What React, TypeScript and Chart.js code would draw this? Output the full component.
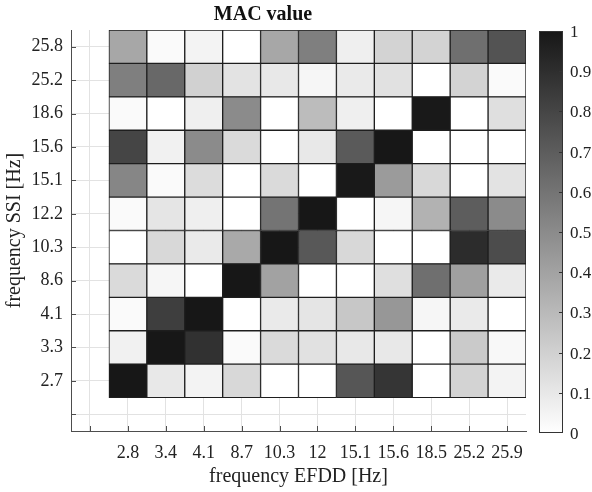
import { useEffect, useRef } from 'react';
import { Chart, registerables } from 'chart.js';
Chart.register(...registerables);

// Category / tick labels
const efddLabels = ['2.8', '3.4', '4.1', '8.7', '10.3', '12', '15.1', '15.6', '18.5', '25.2', '25.9'];
const ssiLabels = ['2.7', '3.3', '4.1', '8.6', '10.3', '12.2', '15.1', '15.6', '18.6', '25.2', '25.8']; // bottom to top
const colorbarTicks = [0, 0.1, 0.2, 0.3, 0.4, 0.5, 0.6, 0.7, 0.8, 0.9, 1];

// MAC values, one array per SSI row, columns in EFDD order
const mac2_7 = [1.0, 0.1, 0.05, 0.17, 0.0, 0.0, 0.73, 0.87, 0.0, 0.19, 0.05];
const mac3_3 = [0.06, 1.0, 0.89, 0.02, 0.16, 0.13, 0.1, 0.1, 0.0, 0.23, 0.03];
const mac4_1 = [0.02, 0.83, 1.0, 0.0, 0.09, 0.11, 0.24, 0.45, 0.04, 0.09, 0.0];
const mac8_6 = [0.16, 0.04, 0.0, 1.0, 0.4, 0.0, 0.0, 0.14, 0.62, 0.41, 0.09];
const mac10_3 = [0.0, 0.17, 0.09, 0.37, 1.0, 0.72, 0.17, 0.0, 0.0, 0.91, 0.77];
const mac12_2 = [0.02, 0.11, 0.07, 0.0, 0.6, 1.0, 0.0, 0.04, 0.33, 0.7, 0.5];
const mac15_1 = [0.52, 0.02, 0.15, 0.0, 0.16, 0.0, 0.99, 0.43, 0.17, 0.0, 0.12];
const mac15_6 = [0.8, 0.06, 0.5, 0.16, 0.0, 0.1, 0.71, 1.0, 0.0, 0.0, 0.0];
const mac18_6 = [0.02, 0.0, 0.07, 0.5, 0.0, 0.29, 0.07, 0.0, 0.99, 0.0, 0.14];
const mac25_2 = [0.55, 0.65, 0.2, 0.12, 0.1, 0.04, 0.09, 0.13, 0.0, 0.19, 0.02];
const mac25_8 = [0.38, 0.02, 0.05, 0.0, 0.38, 0.55, 0.07, 0.19, 0.19, 0.62, 0.74];

const macRows = [mac2_7, mac3_3, mac4_1, mac8_6, mac10_3, mac12_2, mac15_1, mac15_6, mac18_6, mac25_2, mac25_8];

const FONT = "'Liberation Serif', 'Times New Roman', serif";
const TEXT = '#222';

function gray(v: number) {
  const g = Math.round(255 - v * 232);
  return `rgb(${g},${g},${g})`;
}

const inwardTicks = {
  id: 'inwardTicks',
  afterDatasetsDraw(chart: any) {
    const { ctx, chartArea, scales } = chart;
    const x = scales.x;
    const y = scales.y;
    ctx.save();
    ctx.strokeStyle = '#4d4d4d';
    ctx.lineWidth = 1;
    ctx.beginPath();
    x.ticks.forEach((_: any, i: number) => {
      const px = Math.round(x.getPixelForTick(i)) + 0.5;
      ctx.moveTo(px, chartArea.bottom);
      ctx.lineTo(px, chartArea.bottom - 5);
    });
    y.ticks.forEach((_: any, i: number) => {
      const py = Math.round(y.getPixelForTick(i)) + 0.5;
      ctx.moveTo(chartArea.left, py);
      ctx.lineTo(chartArea.left + 5, py);
    });
    ctx.stroke();
    ctx.restore();
  },
};

const colorbar = {
  id: 'colorbar',
  afterDraw(chart: any) {
    const { ctx, chartArea } = chart;
    const left = chartArea.right + 13;
    const w = 24;
    const top = chartArea.top + 1;
    const bottom = chartArea.bottom + 2;
    ctx.save();
    const grad = ctx.createLinearGradient(0, top, 0, bottom);
    grad.addColorStop(0, gray(1));
    grad.addColorStop(1, gray(0));
    ctx.fillStyle = grad;
    ctx.fillRect(left, top, w, bottom - top);
    ctx.strokeStyle = '#333';
    ctx.lineWidth = 1;
    ctx.strokeRect(left + 0.5, top + 0.5, w - 1, bottom - top - 1);
    ctx.font = `17px ${FONT}`;
    ctx.fillStyle = TEXT;
    ctx.textAlign = 'left';
    ctx.textBaseline = 'middle';
    colorbarTicks.forEach((t) => {
      const py = Math.round(bottom - t * (bottom - top)) + 0.5;
      if (t > 0 && t < 1) {
        ctx.beginPath();
        ctx.moveTo(left + w - 1, py);
        ctx.lineTo(left + w - 4, py);
        ctx.stroke();
      }
      ctx.fillText(String(t), left + w + 7, py + 1);
    });
    ctx.restore();
  },
};

export default function App() {
  const ref = useRef<HTMLCanvasElement | null>(null);
  useEffect(() => {
    if (!ref.current) return;
    const datasets = macRows.map((row, r) => ({
      label: 'SSI ' + ssiLabels[r],
      data: [null as any, ...row.map(() => [r + 0.5, r + 1.5])],
      backgroundColor: ['rgba(0,0,0,0)', ...row.map((v) => gray(v))],
      borderColor: '#1e1e1e',
      borderWidth: 1,
      borderSkipped: false,
      grouped: false,
      barPercentage: 1,
      categoryPercentage: 1,
    }));
    const chart = new Chart(ref.current, {
      type: 'bar',
      data: { labels: ['', ...efddLabels], datasets },
      plugins: [inwardTicks, colorbar],
      options: {
        animation: false,
        responsive: false,
        devicePixelRatio: 1,
        layout: { padding: { left: 0, right: 66, top: 0, bottom: 0 } },
        plugins: {
          legend: { display: false },
          tooltip: { enabled: false },
          title: {
            display: true,
            text: 'MAC value',
            color: '#111',
            font: { family: FONT, size: 20, weight: 'bold' },
            padding: { top: 3, bottom: 3 },
          },
        },
        scales: {
          x: {
            type: 'category',
            offset: true,
            afterFit: (s: any) => {
              s.height = 61;
            },
            grid: { offset: false, color: '#e2e2e2', drawTicks: false },
            border: { color: '#4d4d4d', width: 1 },
            ticks: {
              autoSkip: false,
              maxRotation: 0,
              padding: 11,
              color: TEXT,
              font: { family: FONT, size: 18 },
            },
            title: {
              display: true,
              text: 'frequency EFDD [Hz]',
              color: TEXT,
              font: { family: FONT, size: 20 },
              padding: { top: 0, bottom: 3 },
            },
          },
          y: {
            type: 'linear',
            min: -0.5,
            max: 11.5,
            afterFit: (s: any) => {
              s.width = 71;
            },
            afterBuildTicks: (s: any) => {
              s.ticks = [0, ...ssiLabels.map((_, i) => i + 1)].map((v) => ({ value: v }));
            },
            grid: { color: '#e2e2e2', drawTicks: false },
            border: { color: '#4d4d4d', width: 1 },
            ticks: {
              autoSkip: false,
              padding: 8,
              color: TEXT,
              font: { family: FONT, size: 18 },
              callback: (v: any) => (v >= 1 && v <= ssiLabels.length ? ssiLabels[v - 1] : ''),
            },
            title: {
              display: true,
              text: 'frequency SSI [Hz]',
              color: TEXT,
              font: { family: FONT, size: 20 },
              padding: { top: 3, bottom: 0 },
            },
          },
        },
      } as any,
    });
    return () => chart.destroy();
  }, []);
  return (
    <div style={{ position: 'absolute', left: 0, top: 0, width: 592, height: 492, background: '#fff' }}>
      <canvas ref={ref} width={592} height={492} />
    </div>
  );
}
